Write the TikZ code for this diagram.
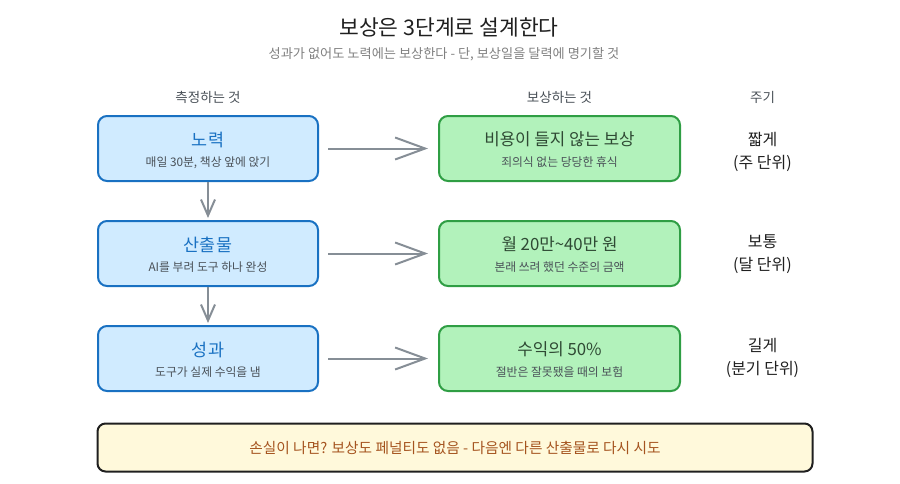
\documentclass[tikz,border=0pt]{standalone}
\usepackage{fontspec}
\setmainfont{Noto Sans CJK KR}
\usepackage{tikz}
\usetikzlibrary{arrows.meta, positioning}
\definecolor{measureline}{HTML}{1971c2}
\definecolor{measurebg}{HTML}{d0ebff}
\definecolor{rewardline}{HTML}{2f9e44}
\definecolor{rewardbg}{HTML}{b2f2bb}
\definecolor{rewardtext}{HTML}{2f4a34}
\definecolor{notebg}{HTML}{fff9db}
\definecolor{notetext}{HTML}{a5541f}
\definecolor{arrowgray}{HTML}{868e96}
\definecolor{subgray}{HTML}{495057}

\begin{document}
\begin{tikzpicture}[
    x=1pt, y=-1pt,
    measure/.style={rectangle, rounded corners=9pt, draw=measureline, fill=measurebg, line width=2pt, minimum width=220pt, minimum height=65pt, align=center},
    reward/.style={rectangle, rounded corners=9pt, draw=rewardline, fill=rewardbg, line width=2pt, minimum width=241pt, minimum height=65pt, align=center},
    period/.style={font=\fontsize{16}{23}\selectfont, align=center, text=black!88},
    header/.style={font=\fontsize{13.5}{15}\selectfont, text=subgray},
    mtitle/.style={font=\fontsize{17.4}{19}\selectfont, text=measureline},
    rtitle/.style={font=\fontsize{16.8}{19}\selectfont, text=rewardtext},
    sub/.style={font=\fontsize{11.8}{13}\selectfont, text=subgray},
    fwd/.style={-{Straight Barb[length=30pt, width=22pt]}, line width=2pt, arrowgray, shorten <=9pt, shorten >=10pt},
    down/.style={-{Straight Barb[length=16pt, width=14pt]}, line width=2pt, arrowgray, shorten >=2pt},
    node distance=38pt,
  ]
  \useasboundingbox (0,0) rectangle (900,483);

  % Title
  \node[font=\fontsize{21.5}{24}\selectfont, text=black!88] (title) at (449,27) {보상은 3단계로 설계한다};
  \node[font=\fontsize{13.2}{15}\selectfont, text=black!50] (subtitle) at (444,54) {성과가 없어도 노력에는 보상한다 - 단, 보상일을 달력에 명기할 것};

  % Boxes
  \node[measure] (effort) at (208,148.5) {};
  \node[measure, below=of effort] (output) {};
  \node[measure, below=of output] (result) {};
  \node[reward] (rest) at (559.5,148.5) {};
  \node[reward, below=of rest] (money) {};
  \node[reward, below=of money] (share) {};

  % Box texts
  \node[mtitle] (effortT) at ([yshift=9pt]effort.center) {노력};
  \node[sub] (effortS) at ([yshift=-14pt]effort.center) {매일 30분, 책상 앞에 앉기};
  \node[mtitle] (outputT) at ([yshift=9pt]output.center) {산출물};
  \node[sub] (outputS) at ([yshift=-14pt]output.center) {AI를 부려 도구 하나 완성};
  \node[mtitle] (resultT) at ([yshift=9pt]result.center) {성과};
  \node[sub] (resultS) at ([yshift=-14pt]result.center) {도구가 실제 수익을 냄};
  \node[rtitle] (restT) at ([yshift=9pt]rest.center) {비용이 들지 않는 보상};
  \node[sub] (restS) at ([yshift=-14pt]rest.center) {죄의식 없는 당당한 휴식};
  \node[rtitle] (moneyT) at ([yshift=9pt]money.center) {월 20만\textasciitilde40만 원};
  \node[sub] (moneyS) at ([yshift=-14pt]money.center) {본래 쓰려 했던 수준의 금액};
  \node[rtitle] (shareT) at ([yshift=9pt]share.center) {수익의 50\%};
  \node[sub] (shareS) at ([yshift=-14pt]share.center) {절반은 잘못됐을 때의 보험};

  % Headers
  \node[header] (hmeasure) at (208,97) {측정하는 것};
  \node[header] (hreward) at (559.5,97) {보상하는 것};
  \node[header] (hperiod) at (762.5,97) {주기};

  % Periods
  \node[period] (p1) at (762.5,151.5) {짧게\\(주 단위)};
  \node[period] (p2) at (762.5,254.5) {보통\\(달 단위)};
  \node[period] (p3) at (762.5,358) {길게\\(분기 단위)};

  % Arrows
  \draw[fwd] (effort) -- (rest);
  \draw[fwd] (output) -- (money);
  \draw[fwd] (result) -- (share);
  \draw[down] (effort) -- (output);
  \draw[down] (output) -- (result);

  % Note
  \node[rectangle, rounded corners=8pt, draw=black!88, fill=notebg, line width=2pt, minimum width=715pt, minimum height=48pt, text=notetext, font=\fontsize{14.7}{17}\selectfont] (note) at (455,447.5) {손실이 나면? 보상도 페널티도 없음 - 다음엔 다른 산출물로 다시 시도};
\end{tikzpicture}
\end{document}
